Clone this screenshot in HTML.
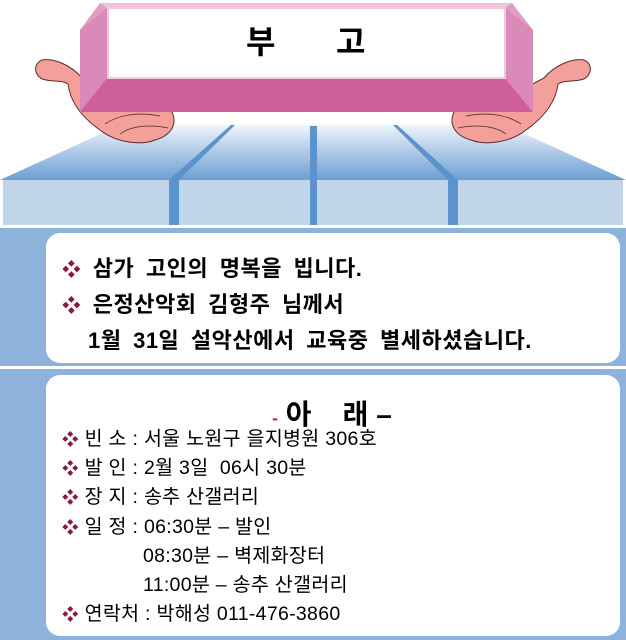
<!DOCTYPE html>
<html><head><meta charset="utf-8"><style>
body{margin:0;width:626px;height:640px;overflow:hidden;background:#fff;font-family:"Liberation Sans","Noto Sans CJK KR","NanumGothic",sans-serif}
.b{color:#8b1a3a;font-size:0.85em}
</style></head><body>
<svg width="626" height="640" viewBox="0 0 626 640" xmlns="http://www.w3.org/2000/svg" style="position:absolute;left:0;top:0">
<defs>
<linearGradient id="tg" x1="0" y1="0" x2="0" y2="1"><stop offset="0" stop-color="#eef4fb"/><stop offset="1" stop-color="#6b9fd3"/></linearGradient>
</defs>
<polygon points="120,125 505,125 626,180 0,180" fill="url(#tg)"/>
<rect x="3" y="180" width="166" height="45" fill="#c0d5ea"/>
<rect x="179" y="180" width="131" height="45" fill="#c0d5ea"/>
<rect x="317" y="180" width="131" height="45" fill="#c0d5ea"/>
<rect x="458" y="180" width="165" height="45" fill="#c0d5ea"/>
<polygon points="231,125 235,125 179,180 179,225 169,225 169,180" fill="#5d93cc"/>
<rect x="310" y="126" width="7" height="99" fill="#5d93cc"/>
<polygon points="393,125 397,125 458,180 458,225 448,225 448,180" fill="#5d93cc"/>
<path d="M82,78 C72,66 55,58 42,60 C32,64 34,78 46,80 C56,82 62,80 68,84 C70,100 80,116 100,130 C115,142 140,146 155,140 C170,136 178,125 172,112 C165,100 140,96 120,98 Z" fill="#f4a09a" stroke="#5a2a2a" stroke-width="1"/>
<path d="M98,112 C110,104 130,100 150,104 M105,124 C120,114 140,112 160,116 M120,134 C130,126 150,124 168,128" stroke="#5a2a2a" stroke-width="0.8" fill="none"/>
<path d="M544,78 C554,66 571,58 584,60 C594,64 592,78 580,80 C570,82 564,80 558,84 C556,100 546,116 526,130 C511,142 486,146 471,140 C456,136 448,125 454,112 C461,100 486,96 506,98 Z" fill="#f4a09a" stroke="#5a2a2a" stroke-width="1"/>
<path d="M528,112 C516,104 496,100 476,104 M521,124 C506,114 486,112 466,116 M506,134 C496,126 476,124 458,128" stroke="#5a2a2a" stroke-width="0.8" fill="none"/>
<polygon points="100,3 512,3 533,30 533,112 80,112 80,30" fill="#e39cc4"/>
<polygon points="100,3 512,3 505,8 107,8" fill="#f0c0dc"/>
<polygon points="80,30 107,8 107,78 80,112" fill="#d98ab8"/>
<polygon points="533,30 505,8 505,78 533,112" fill="#d98ab8"/>
<polygon points="107,78 505,78 533,112 80,112" fill="#cf5f98"/>
<rect x="108" y="8" width="397" height="70" fill="#fff" stroke="#f2c8de" stroke-width="2"/>
<text x="246" y="53" font-size="32" font-weight="bold" font-family="Liberation Sans,Noto Sans CJK KR,sans-serif">부</text>
<text x="336" y="53" font-size="32" font-weight="bold" font-family="Liberation Sans,Noto Sans CJK KR,sans-serif">고</text>
<rect x="0" y="228" width="626" height="138" fill="#8db3dc"/>
<rect x="0" y="369" width="626" height="271" fill="#8db3dc"/>
<rect x="46" y="233" width="574" height="130" rx="14" fill="#fff"/>
<rect x="46" y="375" width="574" height="261" rx="14" fill="#fff"/>
</svg>
<div style="position:absolute;left:0;top:0;width:626px;height:640px;font-weight:bold;color:#000">
<div style="position:absolute;left:62px;top:251px;font-size:22px;line-height:35px;white-space:nowrap;letter-spacing:0.5px;word-spacing:5px">
<div><span class="b">❖</span> 삼가 고인의 명복을 빕니다.</div>
<div><span class="b">❖</span> 은정산악회 김형주 님께서</div>
<div style="padding-left:26px">1월 31일 설악산에서 교육중 별세하셨습니다.</div>
</div>
<div style="position:absolute;left:272px;top:393px;font-size:28px;white-space:nowrap"><span style="color:#c0304a;font-size:18px">-</span> 아 &nbsp;&nbsp; 래 –</div>
<div style="position:absolute;left:62px;top:425px;font-size:19.5px;line-height:29.2px;white-space:nowrap;font-weight:normal;letter-spacing:0.3px">
<div><span class="b">❖</span> 빈 소 : 서울 노원구 을지병원 306호</div>
<div><span class="b">❖</span> 발 인 : 2월 3일 &nbsp;06시 30분</div>
<div><span class="b">❖</span> 장 지 : 송추 산갤러리</div>
<div><span class="b">❖</span> 일 정 : 06:30분 – 발인</div>
<div style="padding-left:81px">08:30분 – 벽제화장터</div>
<div style="padding-left:81px">11:00분 – 송추 산갤러리</div>
<div><span class="b">❖</span> 연락처 : 박해성 011-476-3860</div>
</div>
</div>
</body></html>
